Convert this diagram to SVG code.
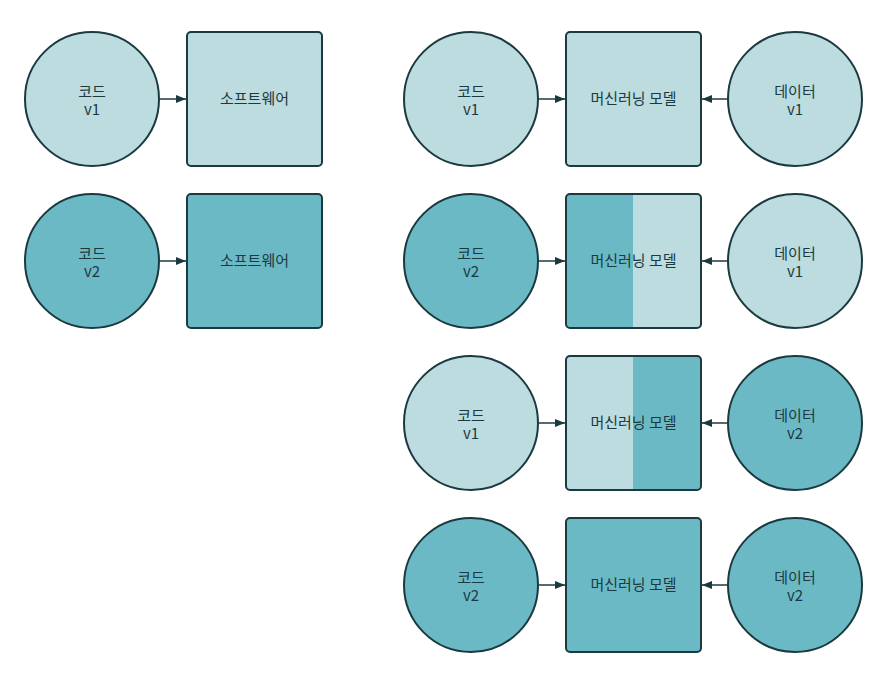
<svg xmlns="http://www.w3.org/2000/svg" width="882" height="682" viewBox="0 0 882 682">
<defs>
<style>
.lt{fill:#bcdcdf}
.dk{fill:#6cb9c6}
.st{fill:none;stroke:#1b3a40;stroke-width:2}
.c{stroke:#1b3a40;stroke-width:2}
.t{font-family:"Noto Sans CJK KR","Noto Sans",sans-serif;font-size:15px;fill:#1b3a40;text-anchor:middle}
.e{stroke:#1b3a40;stroke-width:1.5;fill:none}
</style>
<marker id="ah" viewBox="0 0 10 10" refX="10" refY="5" markerWidth="11" markerHeight="10" orient="auto" markerUnits="userSpaceOnUse">
<path d="M0,1 L10,5 L0,9 z" fill="#1b3a40"/>
</marker>
</defs>
<rect width="882" height="682" fill="#fff"/>

<g id="code-v1-a"><circle cx="92" cy="99" r="67" class="lt c"/><text class="t" x="92" y="97">코드</text><text class="t" x="92" y="115">v1</text></g>
<g id="sw-1"><rect x="187" y="32" width="135" height="134" rx="4" class="lt c"/><text class="t" x="254.5" y="104">소프트웨어</text></g>
<g id="code-v2-a"><circle cx="92" cy="261" r="67" class="dk c"/><text class="t" x="92" y="259">코드</text><text class="t" x="92" y="277">v2</text></g>
<g id="sw-2"><rect x="187" y="194" width="135" height="134" rx="4" class="dk c"/><text class="t" x="254.5" y="266">소프트웨어</text></g>

<g id="code-v1-b"><circle cx="471" cy="99" r="67" class="lt c"/><text class="t" x="471" y="97">코드</text><text class="t" x="471" y="115">v1</text></g>
<g id="ml-1"><rect x="566" y="32" width="135" height="134" rx="4" class="lt c"/><text class="t" x="633.5" y="104">머신러닝 모델</text></g>
<g id="data-v1-a"><circle cx="795" cy="99" r="67" class="lt c"/><text class="t" x="795" y="97">데이터</text><text class="t" x="795" y="115">v1</text></g>

<g id="code-v2-b"><circle cx="471" cy="261" r="67" class="dk c"/><text class="t" x="471" y="259">코드</text><text class="t" x="471" y="277">v2</text></g>
<g id="ml-2"><path d="M633,194 H570 a4,4 0 0 0 -4,4 V324 a4,4 0 0 0 4,4 H633 z" class="dk"/><path d="M633,194 H697 a4,4 0 0 1 4,4 V324 a4,4 0 0 1 -4,4 H633 z" class="lt"/><rect x="566" y="194" width="135" height="134" rx="4" class="st"/><text class="t" x="633.5" y="266">머신러닝 모델</text></g>
<g id="data-v1-b"><circle cx="795" cy="261" r="67" class="lt c"/><text class="t" x="795" y="259">데이터</text><text class="t" x="795" y="277">v1</text></g>

<g id="code-v1-c"><circle cx="471" cy="423" r="67" class="lt c"/><text class="t" x="471" y="421">코드</text><text class="t" x="471" y="439">v1</text></g>
<g id="ml-3"><path d="M633,356 H570 a4,4 0 0 0 -4,4 V486 a4,4 0 0 0 4,4 H633 z" class="lt"/><path d="M633,356 H697 a4,4 0 0 1 4,4 V486 a4,4 0 0 1 -4,4 H633 z" class="dk"/><rect x="566" y="356" width="135" height="134" rx="4" class="st"/><text class="t" x="633.5" y="428">머신러닝 모델</text></g>
<g id="data-v2-a"><circle cx="795" cy="423" r="67" class="dk c"/><text class="t" x="795" y="421">데이터</text><text class="t" x="795" y="439">v2</text></g>

<g id="code-v2-c"><circle cx="471" cy="585" r="67" class="dk c"/><text class="t" x="471" y="583">코드</text><text class="t" x="471" y="601">v2</text></g>
<g id="ml-4"><rect x="566" y="518" width="135" height="134" rx="4" class="dk c"/><text class="t" x="633.5" y="590">머신러닝 모델</text></g>
<g id="data-v2-b"><circle cx="795" cy="585" r="67" class="dk c"/><text class="t" x="795" y="583">데이터</text><text class="t" x="795" y="601">v2</text></g>

<g id="connectors">
<line x1="160" y1="99" x2="186" y2="99" class="e" marker-end="url(#ah)"/>
<line x1="160" y1="261" x2="186" y2="261" class="e" marker-end="url(#ah)"/>
<line x1="539" y1="99" x2="565" y2="99" class="e" marker-end="url(#ah)"/>
<line x1="539" y1="261" x2="565" y2="261" class="e" marker-end="url(#ah)"/>
<line x1="539" y1="423" x2="565" y2="423" class="e" marker-end="url(#ah)"/>
<line x1="539" y1="585" x2="565" y2="585" class="e" marker-end="url(#ah)"/>
<line x1="727" y1="99" x2="702" y2="99" class="e" marker-end="url(#ah)"/>
<line x1="727" y1="261" x2="702" y2="261" class="e" marker-end="url(#ah)"/>
<line x1="727" y1="423" x2="702" y2="423" class="e" marker-end="url(#ah)"/>
<line x1="727" y1="585" x2="702" y2="585" class="e" marker-end="url(#ah)"/>
</g>
</svg>
